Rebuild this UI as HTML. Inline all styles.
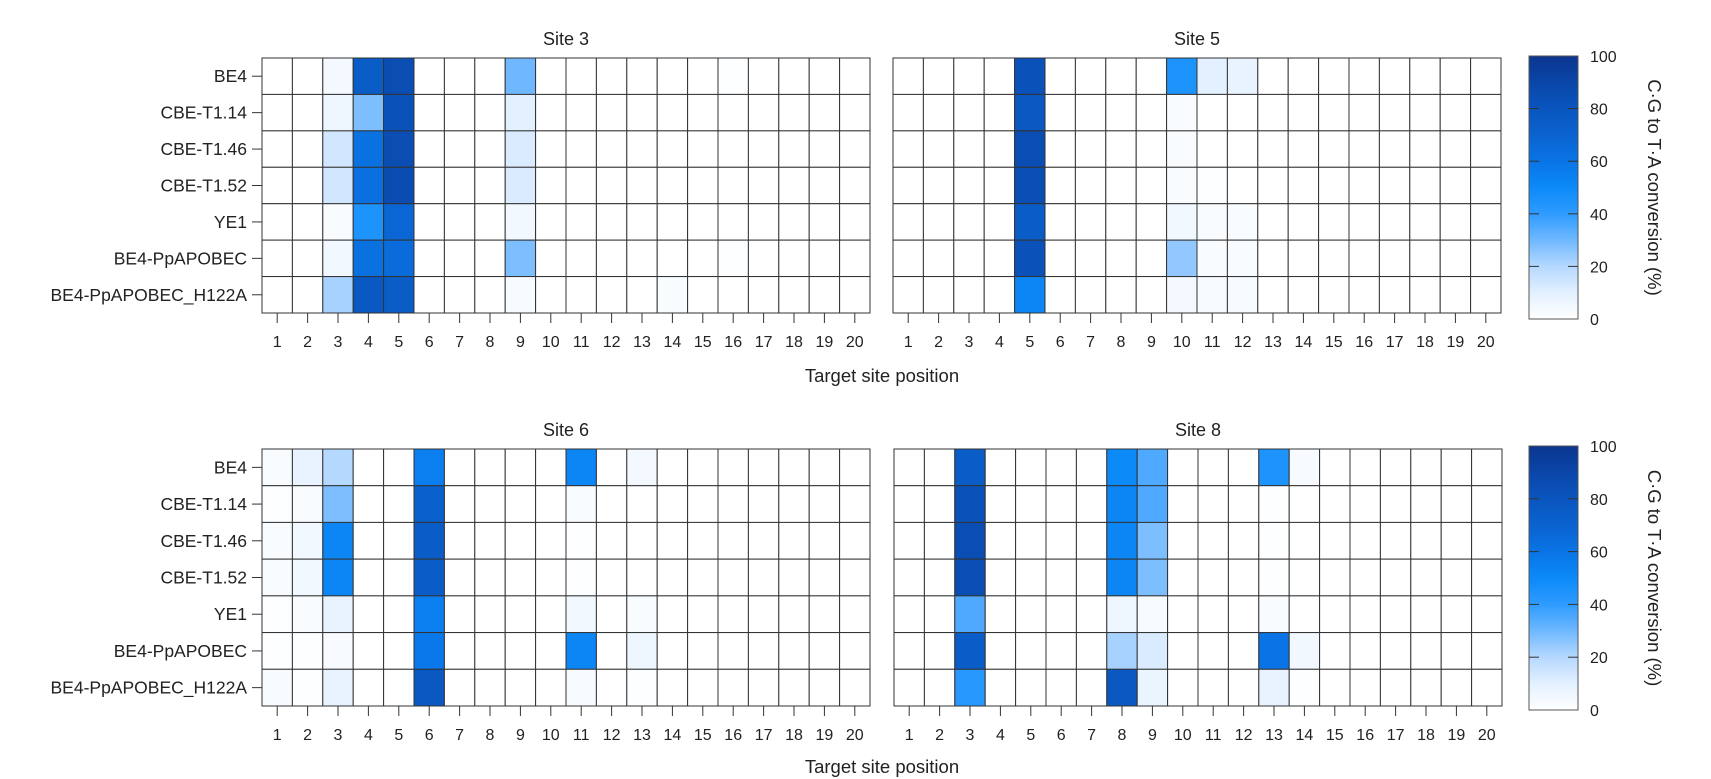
<!DOCTYPE html>
<html><head><meta charset="utf-8">
<style>
html,body{margin:0;padding:0;background:#fff;}
svg{display:block;font-family:"Liberation Sans",sans-serif;}
</style></head>
<body>
<svg id="chart" width="1711" height="779" viewBox="0 0 1711 779" xmlns="http://www.w3.org/2000/svg">
<defs>
<linearGradient id="cbgrad" x1="0" y1="1" x2="0" y2="0">
<stop offset="0" stop-color="#ffffff"/>
<stop offset="0.1" stop-color="#e3f0ff"/>
<stop offset="0.2" stop-color="#b5d8ff"/>
<stop offset="0.3" stop-color="#6fb8ff"/>
<stop offset="0.4" stop-color="#2e9bff"/>
<stop offset="0.5" stop-color="#0b8af8"/>
<stop offset="0.6" stop-color="#0a74e6"/>
<stop offset="0.7" stop-color="#0a63cf"/>
<stop offset="0.8" stop-color="#0a55bf"/>
<stop offset="0.9" stop-color="#0a46a8"/>
<stop offset="1" stop-color="#0b3590"/>
</linearGradient>
</defs>
</svg>
<script>
const editors = ["BE4","CBE-T1.14","CBE-T1.46","CBE-T1.52","YE1","BE4-PpAPOBEC","BE4-PpAPOBEC_H122A"];
const positions = [1,2,3,4,5,6,7,8,9,10,11,12,13,14,15,16,17,18,19,20];
const colorbarTicks = [0,20,40,60,80,100];
const siteNames = ["Site 3","Site 5","Site 6","Site 8"];
// sparse values: [row, position, percent]
const site3 = [[0,3,4],[0,4,75],[0,5,85],[0,9,30],[0,16,1],
 [1,3,6],[1,4,28],[1,5,82],[1,9,10],
 [2,3,14],[2,4,62],[2,5,85],[2,9,12],
 [3,3,14],[3,4,63],[3,5,86],[3,9,12],
 [4,3,2],[4,4,45],[4,5,68],[4,9,5],
 [5,3,5],[5,4,62],[5,5,65],[5,9,28],[5,16,1],
 [6,3,22],[6,4,78],[6,5,75],[6,9,3],[6,14,2]];
const site5 = [[0,5,82],[0,10,45],[0,11,10],[0,12,8],
 [1,5,78],[1,10,2],
 [2,5,85],[2,10,2],
 [3,5,85],[3,10,2],[3,11,1],
 [4,5,75],[4,10,5],[4,11,2],[4,12,2],
 [5,5,82],[5,10,25],[5,11,2],[5,12,2],
 [6,5,52],[6,10,4],[6,11,3],[6,12,3]];
const site6 = [[0,1,2],[0,2,8],[0,3,20],[0,6,55],[0,11,52],[0,13,4],
 [1,1,1],[1,2,2],[1,3,28],[1,6,72],[1,11,2],
 [2,1,2],[2,2,5],[2,3,52],[2,6,75],[2,11,1],
 [3,1,2],[3,2,5],[3,3,52],[3,6,75],[3,11,1],
 [4,1,1],[4,2,2],[4,3,8],[4,6,55],[4,11,5],[4,13,2],
 [5,1,1],[5,2,1],[5,3,3],[5,6,58],[5,11,52],[5,13,6],
 [6,1,3],[6,2,1],[6,3,8],[6,6,78],[6,11,3],[6,13,1]];
const site8 = [[0,3,75],[0,8,50],[0,9,35],[0,13,45],[0,14,3],
 [1,3,82],[1,8,52],[1,9,35],[1,13,1],
 [2,3,85],[2,8,52],[2,9,28],[2,13,1],
 [3,3,85],[3,8,52],[3,9,28],[3,13,1],
 [4,3,35],[4,8,6],[4,9,3],[4,13,2],
 [5,3,75],[5,8,22],[5,9,12],[5,13,60],[5,14,5],
 [6,3,42],[6,8,78],[6,9,7],[6,13,8],[6,14,1]];

const stops = [[0,[255,255,255]],[10,[227,240,255]],[20,[181,216,255]],[30,[111,184,255]],[40,[46,155,255]],[50,[11,138,248]],[60,[10,116,230]],[70,[10,99,207]],[80,[10,85,191]],[90,[10,70,168]],[100,[11,53,144]]];
function colorScale(v){
  v=Math.max(0,Math.min(100,v));
  for(let i=1;i<stops.length;i++){
    if(v<=stops[i][0]){
      const a=stops[i-1],b=stops[i],t=(v-a[0])/(b[0]-a[0]);
      const c=a[1].map((x,k)=>Math.round(x+(b[1][k]-x)*t));
      return `rgb(${c[0]},${c[1]},${c[2]})`;
    }
  }
  return 'rgb(11,53,144)';
}
const NS="http://www.w3.org/2000/svg";
const svg=document.getElementById('chart');
function mk(tag,attrs,parent){const e=document.createElementNS(NS,tag);for(const k in attrs)e.setAttribute(k,attrs[k]);(parent||svg).appendChild(e);return e;}

const panels=[
 {data:site3,name:siteNames[0],x0:262,x1:870,y0:58,y1:313,labels:true},
 {data:site5,name:siteNames[1],x0:893,x1:1501,y0:58,y1:313,labels:false},
 {data:site6,name:siteNames[2],x0:262,x1:870,y0:449,y1:706,labels:true},
 {data:site8,name:siteNames[3],x0:894,x1:1502,y0:449,y1:706,labels:false}];

panels.forEach((p,pi)=>{
  const g=mk('g',{});
  
  
  const cw=(p.x1-p.x0)/positions.length, ch=(p.y1-p.y0)/editors.length;
  const xOf=pos=>p.x0+(positions.indexOf(pos))*cw;
  const yOf=r=>p.y0+r*ch;
  const grid={};
  p.data.forEach(d=>{grid[d[0]+'_'+d[1]]=d[2];});
  editors.forEach((ed,r)=>{
    positions.forEach(pos=>{
      const v=grid[r+'_'+pos]||0;
      const c=mk('rect',{x:xOf(pos),y:yOf(r),width:cw,height:ch,fill:colorScale(v),stroke:'#333','stroke-width':1},g);
      
      
    });
  });
  const t=mk('text',{x:(p.x0+p.x1)/2,y:p.y0-13,'text-anchor':'middle','font-size':18,fill:'#222'},g);
  t.textContent=p.name;
  
  
  positions.forEach(pos=>{
    const cx=xOf(pos)+cw/2;
    mk('line',{x1:cx,x2:cx,y1:p.y1,y2:p.y1+10,stroke:'#333','stroke-width':1},g);
    const tl=mk('text',{x:cx,y:p.y1+34,'text-anchor':'middle','font-size':16,fill:'#222'},g);
    tl.textContent=pos;
    
    
  });
  if(p.labels){
    editors.forEach((ed,r)=>{
      const cy=yOf(r)+ch/2;
      mk('line',{x1:p.x0-10,x2:p.x0,y1:cy,y2:cy,stroke:'#333','stroke-width':1},g);
      const yl=mk('text',{x:p.x0-15,y:cy+6,'text-anchor':'end','font-size':17.5,fill:'#222'},g);
      yl.textContent=ed;
      
      
    });
  }
});

// x-axis titles
[382,773].forEach(y=>{
  const t=mk('text',{x:882,y:y,'text-anchor':'middle','font-size':18.5,fill:'#222'});
  t.textContent='Target site position';
  
  
});

// colorbars
[[56,319],[446,710]].forEach(([y0,y1])=>{
  const g=mk('g',{});
  
  
  mk('rect',{x:1529,y:y0,width:49,height:y1-y0,fill:'url(#cbgrad)',stroke:'#555','stroke-width':1},g);
  colorbarTicks.forEach(v=>{
    const y=y1-(v/100)*(y1-y0);
    if(v>0&&v<100){
      mk('line',{x1:1529,x2:1539,y1:y,y2:y,stroke:'#333','stroke-width':1},g);
      mk('line',{x1:1568,x2:1578,y1:y,y2:y,stroke:'#333','stroke-width':1},g);
    }
    const tl=mk('text',{x:1590,y:y+6,'font-size':16,fill:'#222'},g);
    tl.textContent=v;
    
    
  });
  const cy=(y0+y1)/2;
  const tt=mk('text',{x:1648,y:cy,'text-anchor':'middle','font-size':18.5,fill:'#222',transform:`rotate(90 1648 ${cy})`},g);
  tt.textContent='C·G to T·A conversion (%)';
  
  
});
</script>
</body></html>
